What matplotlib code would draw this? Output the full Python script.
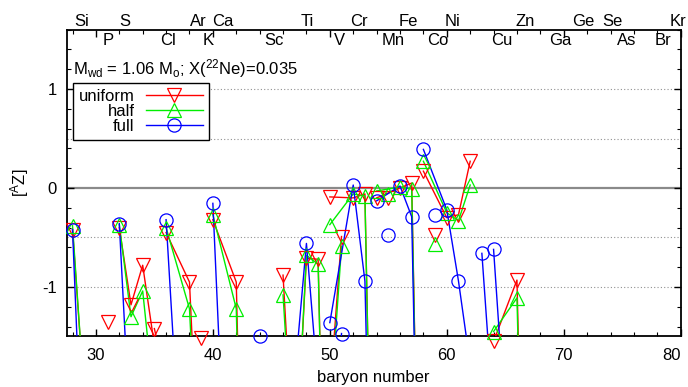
import numpy as np
import matplotlib
matplotlib.use("Agg")
import matplotlib.pyplot as plt
from matplotlib.lines import Line2D
from matplotlib.transforms import blended_transform_factory

plt.rcParams['font.family'] = ['Liberation Sans', 'DejaVu Sans']
plt.rcParams['mathtext.fontset'] = 'custom'
plt.rcParams['mathtext.rm'] = 'Liberation Sans'
plt.rcParams['mathtext.it'] = 'Liberation Sans:italic'
plt.rcParams['font.size'] = 12
plt.rcParams['axes.unicode_minus'] = False

# ---------------- data ----------------
mass_number = [28, 29, 30, 31, 32, 33, 34, 36, 35, 37, 36, 38, 40, 39, 41,
               40, 42, 43, 44, 46, 48, 45, 46, 47, 48, 49, 50, 50, 51,
               50, 52, 53, 54, 55, 54, 56, 57, 58, 59, 58, 60, 61, 62,
               63, 65, 64, 66, 67, 68, 70]
element_of = ['Si', 'Si', 'Si', 'P', 'S', 'S', 'S', 'S', 'Cl', 'Cl', 'Ar', 'Ar', 'Ar', 'K', 'K',
              'Ca', 'Ca', 'Ca', 'Ca', 'Ca', 'Ca', 'Sc', 'Ti', 'Ti', 'Ti', 'Ti', 'Ti', 'V', 'V',
              'Cr', 'Cr', 'Cr', 'Cr', 'Mn', 'Fe', 'Fe', 'Fe', 'Fe', 'Co', 'Ni', 'Ni', 'Ni', 'Ni',
              'Cu', 'Cu', 'Zn', 'Zn', 'Zn', 'Zn', 'Zn']
uniform = [-0.42, -2.10, -2.60, -1.35, -0.40, -1.18, -0.78, -2.40, -1.42, -2.50, -0.45, -0.95, -6.0, -1.52, -2.50,
           -0.32, -0.95, -6.0, -4.0, -6.0, -6.0, -2.50, -0.88, -3.0, -0.71, -0.72, -6.0, -2.10, -0.49,
           -0.09, -0.10, -0.06, -6.0, -0.10, -0.10, 0.00, 0.05, -6.0, -0.47, 0.17, -0.30, -0.27, 0.27,
           -4.0, -4.0, -1.55, -0.93, -6.0, -6.0, -6.0]
half = [-0.38, -2.10, -2.60, -2.20, -0.37, -1.30, -1.04, -3.30, -2.00, -2.80, -0.40, -1.22, -6.0, -2.00, -2.50,
        -0.27, -1.22, -6.0, -4.0, -6.0, -6.0, -2.50, -1.08, -3.0, -0.68, -0.77, -6.0, -2.30, -0.59,
        -0.37, -0.06, -0.08, -6.0, -0.06, -0.03, 0.01, -0.01, -6.0, -0.57, 0.27, -0.25, -0.33, 0.03,
        -4.0, -4.0, -1.45, -1.11, -6.0, -6.0, -6.0]
full = [-0.42, -3.30, -3.50, -2.80, -0.36, -2.64, -3.00, -3.50, -2.50, -3.00, -0.32, -4.30, -6.0, -2.50, -3.00,
        -0.155, -5.50, -6.0, -1.49, -6.0, -6.0, -3.00, -4.00, -1.90, -0.56, -2.00, -6.0, -3.00, -1.47,
        -1.36, 0.03, -0.94, -6.0, -0.47, -0.13, 0.02, -0.29, -6.0, -0.27, 0.39, -0.22, -0.94, -1.78,
        -0.66, -4.0, -0.62, -4.10, -6.0, -6.0, -6.0]

series_names = ['uniform', 'half', 'full']
series_colors = ['#ff0000', '#00ee00', '#0000ff']
series_markers = ['v', '^', 'o']

upper_symbols = ['Si', 'S', 'Ar', 'Ca', 'Ti', 'Cr', 'Fe', 'Ni', 'Zn', 'Ge', 'Se', 'Kr']
upper_pos = [28.77, 32.49, 38.78, 40.85, 48.08, 52.52, 56.73, 60.53, 66.68, 71.69, 74.12, 79.75]
lower_symbols = ['P', 'Cl', 'K', 'Sc', 'V', 'Mn', 'Co', 'Cu', 'Ga', 'As', 'Br']
lower_pos = [31.06, 36.2, 39.56, 45.22, 50.86, 55.38, 59.24, 64.74, 69.74, 75.41, 78.47]

# ---------------- figure ----------------
fig = plt.figure(figsize=(6.88, 3.87), dpi=100)
ax = fig.add_axes([0.0969, 0.1305, 0.9894 - 0.0969, 0.9235 - 0.1305])
ax.set_xlim(27.5, 80)
ax.set_ylim(-1.5, 1.6)

for yv in [-1.0, -0.5, 0.5, 1.0]:
    ax.axhline(yv, color='#909090', lw=0.8, ls=(0, (1, 2)), zorder=1)
ax.axhline(0, color='#8a8a8a', lw=1.6, zorder=1)

A = np.array(mass_number, dtype=float)
el = np.array(element_of)
data = [np.array(uniform), np.array(half), np.array(full)]

for vals, c, m in zip(data, series_colors, series_markers):
    for e in dict.fromkeys(element_of):
        sel = el == e
        ax.plot(A[sel], vals[sel], color=c, lw=1.0, zorder=3)
    vis = vals >= -1.56
    ax.plot(A[vis], vals[vis], ls='none', marker=m, ms=9.5,
            mfc='none', mec=c, mew=0.9, zorder=4, clip_on=False)

ax.set_xticks([30, 40, 50, 60, 70, 80])
ax.set_xticks(np.arange(28, 81, 2), minor=True)
ax.set_yticks([-1, 0, 1])
ax.set_yticks(np.arange(-1.4, 1.61, 0.2), minor=True)
ax.tick_params(which='both', direction='in', top=True, right=True, labelsize=12)
ax.tick_params(axis='x', which='major', pad=8)
ax.tick_params(axis='y', which='major', pad=7)
ax.tick_params(which='major', length=5, width=1)
ax.tick_params(which='minor', length=3, width=0.8)
for s in ax.spines.values():
    s.set_linewidth(1.3)
fig.canvas.draw()
xt = ax.get_xticklabels()
xt[-1].set_horizontalalignment('right')
xt[-1].set_x(80.4)

ax.set_xlabel('baryon number', fontsize=12, labelpad=5)
ax.set_ylabel(r'[$^{\rm A}$Z]', fontsize=12, labelpad=8)

trans = blended_transform_factory(ax.transData, ax.transAxes)
for s, p in zip(upper_symbols, upper_pos):
    ax.text(p, 1.026, s, transform=trans, ha='center', va='center', fontsize=12, clip_on=False)
for s, p in zip(lower_symbols, lower_pos):
    ax.text(p, 0.966, s, transform=trans, ha='center', va='center', fontsize=12, clip_on=False)

ax.text(28.06, 1.21, r'M$_{\rm wd}$ = 1.06 M$_{\rm o}$; X($^{22}$Ne)=0.035',
        ha='left', va='center', fontsize=12)

handles = [Line2D([], [], color=c, marker=m, ms=9.5, mfc='none', mec=c, mew=0.9, lw=1.0)
           for c, m in zip(series_colors, series_markers)]
leg = ax.legend(handles, series_names, loc='upper left', bbox_to_anchor=(0.0098, 0.825),
                borderaxespad=0, markerfirst=False, fancybox=False, framealpha=1,
                edgecolor='black', fontsize=12, handlelength=3.4, labelspacing=0.0,
                borderpad=0.35, handletextpad=0.7)
leg.get_frame().set_linewidth(1.0)

fig.savefig('out.png', dpi=100)
